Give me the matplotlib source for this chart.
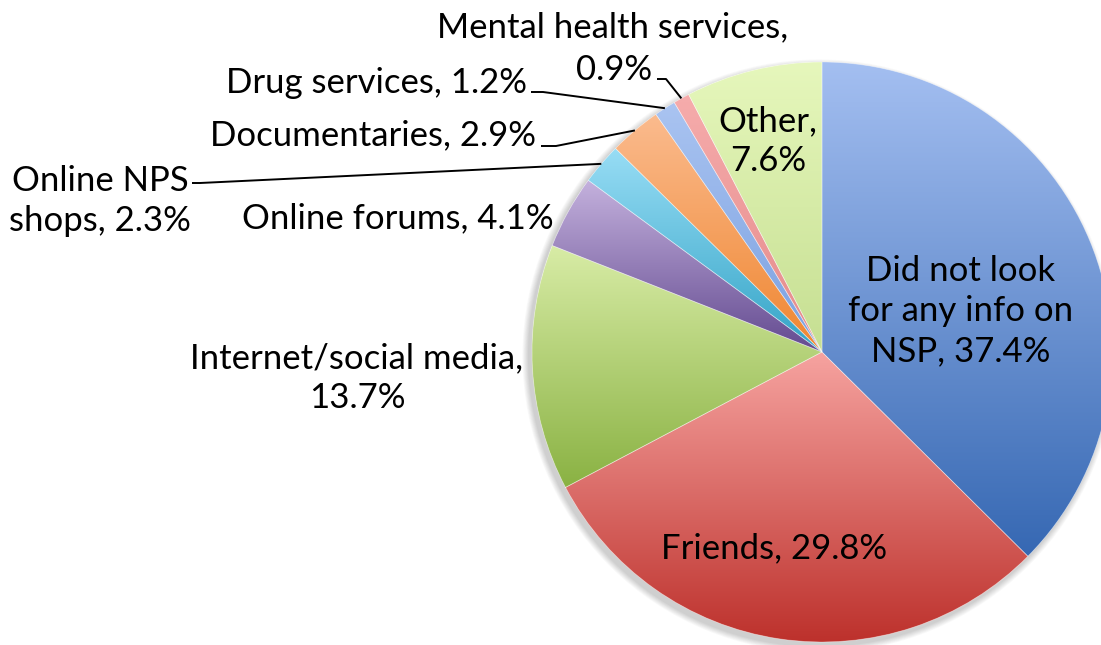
import numpy as np
import matplotlib.pyplot as plt
from matplotlib.colors import LinearSegmentedColormap
from matplotlib.patches import Circle

plt.rcParams['font.family'] = ['Lato', 'DejaVu Sans']

categories = ['Did not look for any info on NSP', 'Friends', 'Internet/social media',
              'Online forums', 'Online NPS shops', 'Documentaries', 'Drug services',
              'Mental health services', 'Other']
values = [37.4, 29.8, 13.7, 4.1, 2.3, 2.9, 1.2, 0.9, 7.6]

# label lines as they are wrapped on the chart
label_text = [['Did not look\nfor any info on\nNSP, {}%'], ['Friends, {}%'],
              ['Internet/social media,\n{}%'], ['Online forums, {}%'],
              ['Online NPS\nshops, {}%'], ['Documentaries, {}%'], ['Drug services, {}%'],
              ['Mental health services,', '{}%'], ['Other,\n{}%']]

# gradient colours, top -> bottom of each slice
top_colors = ['#a4bff1', '#f6a3a0', '#d8eca6', '#c4b1dd', '#98ddf5', '#fbbb8e',
              '#aac4f1', '#f6acac', '#e6f7bc']
bottom_colors = ['#3668b3', '#bd312c', '#8ab243', '#634a90', '#32a3c6', '#ef8630',
                 '#7aa0e0', '#e48a8a', '#c6df92']

W, H = 1101, 645
cx, cy, R = 822, H - 352, 290

fig = plt.figure(figsize=(W / 100, H / 100), dpi=100)
ax = fig.add_axes([0, 0, 1, 1])

# soft drop shadow behind the pie
for k in range(8):
    ax.add_patch(Circle((cx - 3, cy - 4), R + 1 + k * 0.8, color='black',
                        alpha=0.022, lw=0, zorder=-2))
ax.add_patch(Circle((cx, cy), R, color='white', lw=0, zorder=-1))

wedges, _ = ax.pie(values, startangle=90, counterclock=False, radius=R,
                   center=(cx, cy), frame=True)

grad = np.linspace(0, 1, 256).reshape(-1, 1)
for w, c_top, c_bot in zip(wedges, top_colors, bottom_colors):
    ext = w.get_path().get_extents()
    cmap = LinearSegmentedColormap.from_list('g', [c_bot, c_top])
    im = ax.imshow(grad, cmap=cmap, origin='lower', aspect='auto',
                   extent=(ext.x0, ext.x1, ext.y0, ext.y1), zorder=0,
                   interpolation='bilinear')
    im.set_clip_path(w)
    w.set_facecolor('none')
    w.set_edgecolor((1, 1, 1, 0.35))
    w.set_linewidth(0.6)

ax.set_xlim(0, W)
ax.set_ylim(0, H)
ax.set_aspect('equal')
ax.axis('off')

# label positions in pixels from the top-left corner, one entry per text line
label_pos = [[(961, 311, 'center')], [(774, 548, 'center')], [(357, 378, 'center')],
             [(398, 218, 'center')], [(100, 201, 'center')], [(536, 135, 'right')],
             [(527, 83, 'right')], [(613, 27, 'center'), (614, 70, 'center')],
             [(768, 141, 'center')]]

fs = 25
for parts, v, positions in zip(label_text, values, label_pos):
    for txt, (x, y, ha) in zip(parts, positions):
        ax.text(x, H - y, txt.format(v), ha=ha, va='center', fontsize=fs,
                linespacing=1.32, color='black', zorder=5)

# leader lines: label stub, then to the mid-point of the slice edge
total = sum(values)
starts = np.concatenate([[0], np.cumsum(values)[:-1]])
stubs = {4: [(192, 183), (200, 183)], 5: [(541, 146), (556, 146)],
         6: [(531, 92), (543, 92)], 7: [(657, 79), (666, 79)]}
for i, pts in stubs.items():
    mid = (starts[i] + values[i] / 2) / total * 360
    ang = np.deg2rad(90 - mid)
    ex, ey = cx + R * np.cos(ang), cy + R * np.sin(ang)
    xs = [p[0] for p in pts] + [ex]
    ys = [H - p[1] for p in pts] + [ey]
    ax.plot(xs, ys, color='black', lw=1.4, zorder=4, solid_capstyle='butt')

fig.savefig('out.png', dpi=100)
